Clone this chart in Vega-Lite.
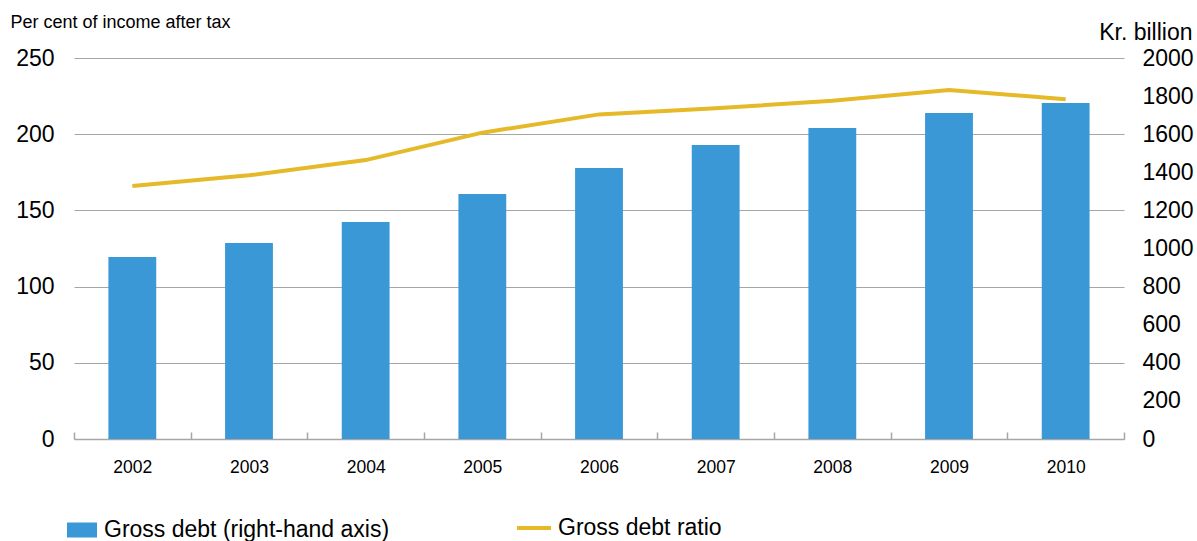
{
  "$schema": "https://vega.github.io/schema/vega-lite/v6.json",
  "width": 1050,
  "height": 381,
  "autosize": "none",
  "padding": {"left": 74, "top": 58, "right": 73, "bottom": 102},
  "config": {
    "font": "Liberation Sans",
    "view": {"stroke": null},
    "axis": {"labelColor": "#000000", "titleColor": "#000000", "titleFontWeight": "normal"},
    "legend": {"labelColor": "#000000", "padding": 0, "labelLimit": 0}
  },
  "data": {
    "values": [
      {"year": "2002", "debt": 955, "ratio": 166},
      {"year": "2003", "debt": 1029, "ratio": 173},
      {"year": "2004", "debt": 1139, "ratio": 183},
      {"year": "2005", "debt": 1286, "ratio": 201},
      {"year": "2006", "debt": 1423, "ratio": 213},
      {"year": "2007", "debt": 1543, "ratio": 217},
      {"year": "2008", "debt": 1633, "ratio": 222},
      {"year": "2009", "debt": 1711, "ratio": 229},
      {"year": "2010", "debt": 1764, "ratio": 223}
    ]
  },
  "encoding": {
    "x": {
      "field": "year",
      "type": "ordinal",
      "scale": {"paddingInner": 0, "paddingOuter": 0},
      "axis": {
        "title": null,
        "labelAngle": 0,
        "labelFontSize": 17.5,
        "labelBaseline": "middle",
        "labelPadding": 35,
        "tickBand": "extent",
        "tickSize": -7,
        "tickColor": "#A6A6A6",
        "tickWidth": 1.5,
        "domainColor": "#A6A6A6",
        "domainWidth": 1.5,
        "grid": false
      }
    }
  },
  "layer": [
    {
      "mark": {"type": "bar", "width": {"band": 0.41}},
      "encoding": {
        "y": {
          "field": "debt",
          "type": "quantitative",
          "scale": {"domain": [0, 2000]},
          "axis": {
            "orient": "right",
            "values": [0, 200, 400, 600, 800, 1000, 1200, 1400, 1600, 1800, 2000],
            "format": "d",
            "labelFontSize": 23,
            "labelPadding": 18,
            "ticks": false,
            "domain": false,
            "grid": false,
            "title": "Kr. billion",
            "titleFontSize": 23,
            "titleAngle": 0,
            "titleAlign": "right",
            "titleBaseline": "middle",
            "titleX": 68,
            "titleY": -26
          }
        },
        "color": {
          "datum": "Gross debt (right-hand axis)",
          "scale": {"range": ["#3A98D7"]},
          "legend": {
            "title": null,
            "orient": "none",
            "legendX": -7,
            "legendY": 457,
            "symbolType": "M-1,-0.5H1V0.5H-1Z",
            "symbolSize": 900,
            "symbolStrokeWidth": 0,
            "symbolOpacity": 1,
            "labelFontSize": 23,
            "labelOffset": 7
          }
        }
      }
    },
    {
      "mark": {"type": "line", "strokeWidth": 4},
      "encoding": {
        "y": {
          "field": "ratio",
          "type": "quantitative",
          "scale": {"domain": [0, 250]},
          "axis": {
            "orient": "left",
            "values": [0, 50, 100, 150, 200, 250],
            "labelFontSize": 23,
            "labelPadding": 20,
            "ticks": false,
            "domain": false,
            "grid": true,
            "gridColor": "#A6A6A6",
            "gridWidth": 1.2,
            "title": "Per cent of income after tax",
            "titleFontSize": 18,
            "titleAngle": 0,
            "titleAlign": "left",
            "titleBaseline": "middle",
            "titleX": -64,
            "titleY": -36
          }
        },
        "stroke": {
          "datum": "Gross debt ratio",
          "scale": {"range": ["#E5B928"]},
          "legend": {
            "title": null,
            "orient": "none",
            "legendX": 441,
            "legendY": 451,
            "symbolType": "stroke",
            "symbolSize": 1156,
            "symbolStrokeWidth": 4,
            "labelFontSize": 23,
            "labelOffset": 5
          }
        }
      }
    }
  ],
  "resolve": {"scale": {"y": "independent"}}
}
